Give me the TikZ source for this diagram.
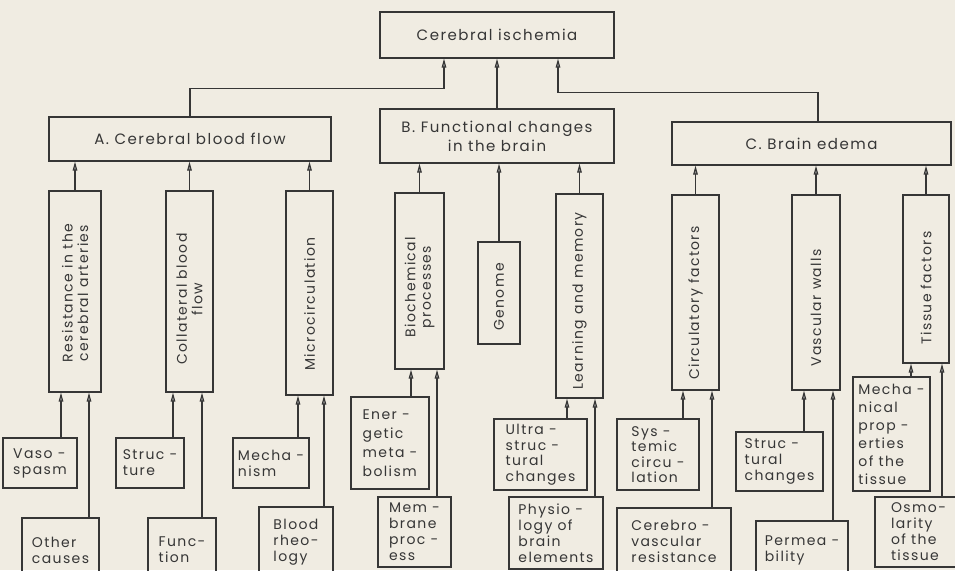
\documentclass[tikz,border=0pt]{standalone}
\usepackage{fontspec}
\setmainfont{Poppins}[LetterSpace=10]
\usetikzlibrary{arrows.meta,positioning,calc}
\definecolor{paper}{HTML}{F0ECE2}
\definecolor{ink}{HTML}{363636}
\tikzset{
  box/.style={draw=ink, line width=1.1pt, inner sep=2pt, text=ink},
  grpbox/.style={box, align=center, font=\fontsize{15}{19}\selectfont},
  colbox/.style={box},
  vtext/.style={rotate=90, align=center, text=ink, font=\fontsize{14}{15.5}\selectfont},
  leafbox/.style={box, align=left, font=\fontsize{14}{16}\selectfont},
  arr/.style={-{Triangle[length=9pt,width=4.5pt,fill=ink!55]}, line width=1.1pt, draw=ink},
}

\begin{document}
\begin{tikzpicture}[x=1pt,y=-1pt]
  \fill[paper] (0,0) rectangle (955,570);
  \useasboundingbox (0,0) rectangle (955,570);
  \clip (0,0) rectangle (955,570);

  % top and groups
  \node[grpbox, minimum width=234pt, minimum height=46pt] (isch) at (497,35) {Cerebral ischemia};
  \node[grpbox, minimum width=282pt, minimum height=44pt] (grpA) at (190,139) {A. Cerebral blood flow};
  \node[grpbox, minimum width=234pt, minimum height=54pt] (grpB) at (497,136) {B. Functional changes\\in the brain};
  \node[grpbox, minimum width=279pt, minimum height=43pt] (grpC) at (811.5,143.5) {C. Brain edema};

  \draw[arr] (grpA.north) -- ++(0,-28) -| ([xshift=-53pt]isch.south);
  \draw[arr] (grpB.north) -- (isch.south);
  \draw[arr] ([xshift=6.5pt]grpC.north) -- ++(0,-29) -| ([xshift=61pt]isch.south);

  % columns
  \foreach \nm/\x/\y/\w/\h/\ty/\txt in {%
    resist/75/291.5/52/201/293/{Resistance in the\\cerebral arteries},
    collat/189.5/291.5/47/201/299/{Collateral blood\\flow},
    micro/309.5/293/47/204/304/{Microcirculation},
    biochem/419.5/281/49/176/287/{Biochemical\\processes},
    genome/499/293/42/102/297/{Genome},
    learn/579.5/296/47/204/301/{Learning and memory},
    circ/695.5/292.5/47/195/303/{Circulatory factors},
    vasc/816/292.5/48/195/308/{Vascular walls},
    tissue/926/279/46/168/288/{Tissue factors}} {
    \node[colbox, minimum width=\w pt, minimum height=\h pt] (\nm) at (\x,\y) {};
    \node[vtext] (\nm-t) at (\x,\ty) {\txt};
  }
  \foreach \src/\dst in {resist/grpA, collat/grpA, micro/grpA, biochem/grpB, genome/grpB,
    learn/grpB, circ/grpC, vasc/grpC, tissue/grpC} {
    \draw[arr] (\src.north) -- (\src.north |- \dst.south);
  }

  % leaves
  \node[leafbox, minimum width=74pt, minimum height=50pt] (vaso) at (40,463) {Vaso -\\spasm};
  \node[leafbox, minimum width=77pt, minimum height=64pt] (other) at (60.5,550) {Other\\causes};
  \node[leafbox, minimum width=68pt, minimum height=50pt] (struc) at (150,463) {Struc -\\ture};
  \node[leafbox, minimum width=68pt, minimum height=64pt] (func) at (182,550) {Func-\\tion};
  \node[leafbox, minimum width=76pt, minimum height=50pt] (mech) at (271,463) {Mecha -\\nism};
  \node[leafbox, minimum width=74pt, minimum height=70pt] (blood) at (296,542) {Blood\\rheo-\\logy};
  \node[leafbox, minimum width=78pt, minimum height=92pt, font=\fontsize{14}{19}\selectfont] (energ) at (390,443) {Ener -\\getic\\meta -\\bolism};
  \node[leafbox, minimum width=73pt, minimum height=70pt] (membr) at (414.5,532) {Mem -\\brane\\proc -\\ess};
  \node[leafbox, minimum width=93pt, minimum height=71pt, font=\fontsize{14}{15.5}\selectfont] (ultra) at (540.5,454.5) {Ultra -\\struc -\\tural\\changes};
  \node[leafbox, minimum width=94pt, minimum height=72pt] (physio) at (556,533) {Physio -\\logy of\\brain\\elements};
  \node[leafbox, minimum width=82pt, minimum height=71pt, font=\fontsize{14}{15.5}\selectfont] (syst) at (658,454.5) {Sys -\\temic\\circu -\\lation};
  \node[leafbox, minimum width=114pt, minimum height=66pt] (cvres) at (674,541) {Cerebro -\\vascular\\resistance};
  \node[leafbox, minimum width=87pt, minimum height=59pt] (strch) at (779.5,461.5) {Struc -\\tural\\changes};
  \node[leafbox, minimum width=92pt, minimum height=58pt] (perm) at (802,550) {Permea -\\bility};
  \node[leafbox, minimum width=77pt, minimum height=114pt, font=\fontsize{14}{18}\selectfont] (mprop) at (891.5,434) {Mecha -\\nical\\prop -\\erties\\of the\\tissue};
  \node[leafbox, minimum width=87pt, minimum height=70pt] (osmo) at (918.5,532) {Osmo-\\larity\\of the\\tissue};

  \foreach \src/\dst/\dx in {vaso/resist/21, other/resist/28.5, struc/collat/23, func/collat/20,
    mech/micro/27, blood/micro/28, energ/biochem/21, membr/biochem/22.5, ultra/learn/26.5,
    physio/learn/39, syst/circ/25, cvres/circ/38, strch/vasc/24.5, perm/vasc/31,
    mprop/tissue/19.5, osmo/tissue/23.5} {
    \draw[arr] ([xshift=\dx pt]\src.north) -- ([xshift=\dx pt]\src.north |- \dst.south);
  }
\end{tikzpicture}
\end{document}
